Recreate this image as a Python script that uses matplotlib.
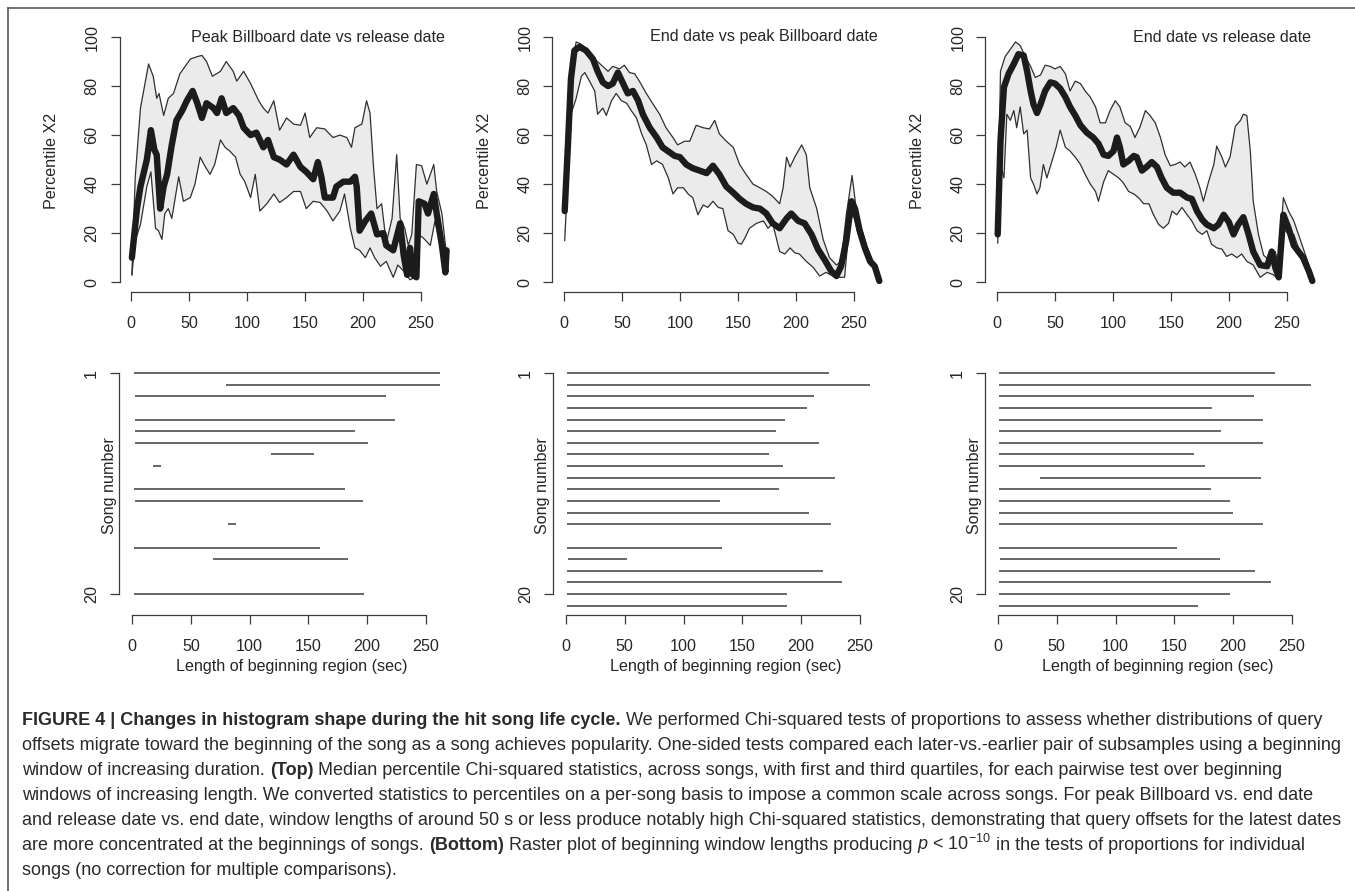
import numpy as np
import matplotlib
matplotlib.use("Agg")
import matplotlib.pyplot as plt
from matplotlib.lines import Line2D

plt.rcParams['font.family'] = ['Liberation Sans', 'DejaVu Sans']
plt.rcParams['mathtext.fontset'] = 'custom'
plt.rcParams['mathtext.rm'] = 'Liberation Sans'
plt.rcParams['mathtext.it'] = 'Liberation Sans:italic'
plt.rcParams['mathtext.bf'] = 'Liberation Sans:bold'

# ---------------- data ----------------
panel_titles = ["Peak Billboard date vs release date",
                "End date vs peak Billboard date",
                "End date vs release date"]
ylabel_top = "Percentile X2"
ylabel_bottom = "Song number"
xlabel_bottom = "Length of beginning region (sec)"
x_ticks = [0, 50, 100, 150, 200, 250]
y_ticks_top = [0, 20, 40, 60, 80, 100]
y_ticks_bottom = [1, 20]

# Panel 1: Peak Billboard date vs release date
pr_med_x = [0.6, 5, 8, 13.5, 17, 20, 22, 25, 28, 31, 35, 39, 44, 48, 53, 57, 61, 65, 71, 74, 78, 82, 88, 93, 97,
            103, 108, 114, 118, 123, 128, 134, 140, 146, 151, 157, 161, 164, 167, 174, 177, 183, 189, 193, 194.5,
            197, 202, 207, 212, 217.5, 220, 226, 232, 235, 238, 240.5, 243, 246, 248, 253, 256, 261, 263.5, 268, 271, 272]
pr_med_y = [10, 30, 39, 50, 62, 54, 52, 30, 39, 44, 56, 66, 70, 74, 78, 73, 67, 73, 71, 69, 75, 69, 71, 68, 63,
            60, 61, 55, 58, 51, 50, 48, 52, 47, 45, 42, 49, 43, 34.5, 34.5, 39, 41, 41, 43, 39,
            21, 25, 28, 19.5, 20, 15, 13, 24, 11, 3, 14, 3, 2, 33, 32, 28, 36, 28, 15, 4, 13]
pr_q3_x = [0.6, 3.5, 8, 15, 19, 22, 24, 28, 32, 36.5, 42, 46.5, 51, 57, 61, 65, 70, 77, 82, 88, 91, 97, 103, 110, 114,
           118, 123, 128, 134, 140, 146, 150, 154, 160, 167, 174, 180, 186, 190, 193, 199, 203, 206, 209, 212,
           216, 220, 225, 229, 232, 236, 239, 242, 246, 250.5, 255, 261, 263.5, 268, 272]
pr_q3_y = [3, 43, 71, 89, 84, 75, 77, 68, 75, 77, 85, 88, 91, 92, 92.5, 90, 84, 86, 90, 86, 82, 86, 81, 74, 71,
           69, 74, 62, 67, 64.5, 64, 69, 59, 63, 62.5, 59, 60, 59, 55, 63, 64.5, 74, 69, 47, 30,
           32, 16, 26, 52, 26, 22, 15, 19.5, 48, 47.5, 40, 48, 37, 28, 11]
pr_q1_x = [0.6, 3.5, 8, 13.5, 17, 21, 23.5, 26.5, 29, 32, 35, 41, 45, 51, 55, 59.5, 64, 68, 72, 77, 81, 85, 90, 94, 98,
           103, 107, 111, 117, 123, 128, 134, 140, 146, 151, 157, 163, 169, 174, 180, 184, 189, 193, 197, 202,
           206, 210, 215, 220, 226, 230, 235, 240.5, 245, 248, 252, 258, 262, 266, 271, 272]
pr_q1_y = [3, 17, 23.5, 39, 45, 22, 21, 17.5, 28, 30, 26, 43, 33, 34.5, 40, 51, 47, 44, 48, 58, 55, 53.5, 51, 44, 41,
           34.5, 44, 29, 32, 36, 32.5, 34.5, 37, 37, 30, 33, 32.5, 29, 25, 29, 36, 22, 14, 13, 10,
           14, 10, 6.5, 8.5, 2, 7, 4.5, 1, 2, 19.5, 18, 15, 25, 17, 3, 5]

# Panel 2: End date vs peak Billboard date
ep_med_x = [0.6, 3.5, 6, 9, 13.5, 19, 25, 29, 33.5, 38, 42, 46.5, 51, 55, 59.5, 64, 68, 74, 80, 85, 91, 95.5, 100,
            105.5, 111, 117, 123, 128.5, 134, 140, 146, 151.5, 157, 163, 169, 174.5, 180, 186, 192, 196, 202,
            207.5, 213.5, 219, 225, 230.5, 235, 239, 243.5, 248, 251, 255, 259.5, 264, 268, 272]
ep_med_y = [29, 57, 83, 94.5, 96, 94.5, 91, 86, 81.5, 80, 81, 85.5, 81, 77, 78, 74, 68.5, 63, 59, 55, 53, 51.5, 51,
            48, 46.5, 45.5, 44.5, 47.5, 44, 39, 36.5, 34, 32, 30.5, 30, 28, 24, 22, 26, 28, 25,
            24, 19.5, 13.5, 9, 4.5, 2.5, 6.5, 17, 33, 30, 21, 14, 8.5, 6.5, 0.5]
ep_q3_x = [0.6, 3.5, 6, 10.5, 15, 20.5, 26.5, 33.5, 38, 42, 48, 52, 56.5, 61, 65, 71, 77, 82.5, 88, 94, 98, 104,
           108.5, 114, 120, 125.5, 130, 134, 140, 146, 151.5, 157, 163, 169, 174.5, 180, 186, 189, 192, 195, 199,
           205, 209, 212, 218, 223.5, 229, 235, 239, 243.5, 248.5, 252, 256.5, 261, 266.5, 272]
ep_q3_y = [30, 63, 87, 98, 97, 94.5, 91, 88, 86, 88, 87, 88.5, 85.5, 85, 82, 77, 72.5, 68.5, 63, 59, 56, 57.5,
           57.5, 64, 63, 62.5, 66, 60.5, 57.5, 55, 48, 44, 40, 38.5, 37, 35, 32, 38.5, 51, 47, 51,
           56, 52, 38.5, 30, 17.5, 10, 7, 8.5, 27.5, 43.5, 30, 22, 15, 8.5, 2]
ep_q1_x = [0.6, 3.5, 6, 10.5, 15, 18, 22, 26.5, 29, 33.5, 36.5, 41, 45, 49.5, 54, 58, 62.5, 67, 71, 75.5, 80, 85,
           90, 94, 98, 103, 107, 111, 115.5, 120, 124, 128.5, 133, 137, 141.5, 146, 150, 153, 156, 160, 166, 172,
           176, 180, 186, 190.5, 195, 199, 203, 209, 215, 220.5, 226, 232, 238, 242, 246.5, 249.5, 254, 258,
           264, 268, 272]
ep_q1_y = [17, 44, 68.5, 75, 84, 85.5, 82, 78, 68.5, 71, 68, 74, 77, 74, 73, 70, 67, 60.5, 56, 48, 49.5, 48,
           42.5, 36, 38.5, 38.5, 36, 34.5, 27.5, 31.5, 30.5, 33, 30.5, 30, 21, 19.5, 16, 15.5, 18, 22, 24, 25,
           22, 24, 12.5, 11.5, 14, 12, 11.5, 8.5, 6, 2.5, 4, 2.5, 2, 2, 25, 27.5, 19.5, 14,
           7, 6, 0]

# Panel 3: End date vs release date
er_med_x = [0.6, 3, 6, 10, 14.5, 18.5, 23, 26, 29, 31.5, 34.5, 37.5, 41.5, 46, 50, 54.5, 59, 63, 67.5, 72, 77.5,
            83, 87.5, 92, 96, 100.5, 103.5, 106, 109, 113.5, 118, 120.5, 125, 129, 133.5, 138, 142, 146.5, 152,
            158, 164, 168, 172.5, 177, 181, 187, 191, 195.5, 200, 204, 208, 212.5, 217, 221, 227, 233, 237, 240,
            243, 247, 251.5, 256, 260, 264, 269, 272]
er_med_y = [19.5, 57.5, 79.5, 85, 89, 93, 92.5, 86, 78, 72.5, 69, 72.5, 78, 81.5, 81, 79, 75.5, 71.5, 68, 64, 61,
            59, 56.5, 52, 51.5, 53.5, 59, 55, 48, 49.5, 51.5, 51, 45.5, 47, 49, 47, 42.5, 38.5, 36.5,
            36.5, 34.5, 34, 29, 25.5, 23.5, 22, 23.5, 27.5, 24.5, 19.5, 23.5, 26.5, 19.5, 12.5, 7, 6.5, 12.5, 6,
            2, 27.5, 22, 15, 12.5, 10, 4.5, 0.5]
er_q3_x = [0.6, 3, 7, 11.5, 16, 20, 24.5, 29, 33, 37.5, 41.5, 46, 50, 54.5, 59, 63, 67.5, 72, 76, 80.5, 85, 89,
           93.5, 97.5, 102, 106, 110.5, 115, 119, 123.5, 128, 132, 136.5, 141, 145, 149.5, 153.5, 158, 162,
           166.5, 171, 175, 178, 182.5, 187, 189.5, 194, 197, 201, 205.5, 210, 212.5, 215.5, 218.5, 221, 225.5,
           230, 235.5, 240, 243, 247, 251.5, 256, 260, 264, 269, 272]
er_q3_y = [20, 86, 92, 95, 98, 96.5, 92, 88, 83.5, 84.5, 88.5, 88, 87, 88, 85, 78, 82, 81, 78, 75.5, 71.5, 65,
           65, 70, 74, 71.5, 65, 63.5, 59, 63.5, 70, 68, 65, 59, 52, 47.5, 48, 49, 47,
           49, 44, 38.5, 33, 41, 48, 55.5, 51, 47, 51, 63.5, 66, 68.5, 68, 53.5, 33, 19.5,
           11, 8.5, 12.5, 7, 34.5, 29, 25, 19.5, 14, 7, 2]
er_q1_x = [0.6, 3, 6, 8.5, 11.5, 14.5, 17, 20, 23, 26, 29, 31.5, 34.5, 37, 40, 43, 47.5, 51, 54.5, 59, 63, 67.5,
           72, 76, 80.5, 85, 87.5, 92, 96, 100.5, 105, 109, 113.5, 118, 122, 126.5, 131, 135, 139.5, 143.5, 148,
           151, 155, 159.5, 164, 168, 172.5, 177, 181, 185, 189.5, 194, 198, 202.5, 207, 211, 215.5, 221, 227,
           233, 238.5, 243, 247, 251.5, 256, 260, 264, 269, 272]
er_q1_y = [16, 48, 42.5, 68.5, 66, 70, 63, 71.5, 60.5, 62, 42.5, 40, 36, 38.5, 48, 42.5, 49.5, 55, 62, 55, 53.5, 51,
           48, 44, 40, 37, 33, 41, 45.5, 44, 42.5, 40.5, 37, 36, 34.5, 32, 32, 27.5, 23.5, 22, 24,
           29, 27.5, 30.5, 27.5, 25, 21, 19.5, 21, 15.5, 14, 13.5, 10.5, 11.5, 10, 11.5, 8.5, 7, 2,
           4, 3, 1, 22, 19.5, 19.5, 14, 8.5, 4, 0]

# Raster plots: significant window ranges per song
pr_songs = [1, 2, 3, 5, 6, 7, 8, 9, 11, 12, 14, 16, 17, 20]
pr_start = [2, 79.5, 2.5, 2.5, 2.5, 2.5, 118.5, 17.5, 1.5, 2.5, 82, 1.5, 68.5, 2]
pr_end = [262, 262, 216, 224, 190, 201, 154.5, 25, 181, 196, 88, 160, 184, 197.5]

ep_songs = [1, 2, 3, 4, 5, 6, 7, 8, 9, 10, 11, 12, 13, 14, 16, 17, 18, 19, 20, 21]
ep_start = [1, 1, 1, 1, 1, 1, 1, 1, 1, 1, 1, 1, 1, 1, 1, 2, 1, 1, 1, 1]
ep_end = [223.5, 259, 211, 205, 186.5, 179, 215.5, 173, 184.5, 228.5, 181, 131, 207, 225, 133, 52, 219, 235, 188, 188]

er_songs = [1, 2, 3, 4, 5, 6, 7, 8, 9, 10, 11, 12, 13, 14, 16, 17, 18, 19, 20, 21]
er_start = [1, 1, 1, 1, 1, 1, 1, 1, 1, 35.5, 1, 1, 1, 1, 1, 2, 1, 1, 1, 1]
er_end = [236, 266, 218, 182, 225, 190, 225, 167, 176, 224, 181, 197, 200, 225, 152, 189, 219, 232, 197, 170]

top_data = [
    (pr_med_x, pr_med_y, pr_q3_x, pr_q3_y, pr_q1_x, pr_q1_y),
    (ep_med_x, ep_med_y, ep_q3_x, ep_q3_y, ep_q1_x, ep_q1_y),
    (er_med_x, er_med_y, er_q3_x, er_q3_y, er_q1_x, er_q1_y),
]
bottom_data = [
    (pr_songs, pr_start, pr_end),
    (ep_songs, ep_start, ep_end),
    (er_songs, er_start, er_end),
]

caption_lines = [
    [("FIGURE 4 | Changes in histogram shape during the hit song life cycle.", "bold"),
     ("We performed Chi-squared tests of proportions to assess whether distributions of query", "normal")],
    [("offsets migrate toward the beginning of the song as a song achieves popularity. One-sided tests compared "
      "each later-vs.-earlier pair of subsamples using a beginning", "normal")],
    [("window of increasing duration.", "normal"), ("(Top)", "bold"),
     ("Median percentile Chi-squared statistics, across songs, with first and third quartiles, for each pairwise "
      "test over beginning", "normal")],
    [("windows of increasing length. We converted statistics to percentiles on a per-song basis to impose a "
      "common scale across songs. For peak Billboard vs. end date", "normal")],
    [("and release date vs. end date, window lengths of around 50 s or less produce notably high Chi-squared "
      "statistics, demonstrating that query offsets for the latest dates", "normal")],
    [("are more concentrated at the beginnings of songs.", "normal"), ("(Bottom)", "bold"),
     ("Raster plot of beginning window lengths producing", "normal"), (r"$p$ < $10^{-10}$", "normal"),
     ("in the tests of proportions for individual", "normal")],
    [("songs (no correction for multiple comparisons).", "normal")],
]

# ---------------- layout ----------------
W, H, DPI = 1355, 891, 100
fig = plt.figure(figsize=(W / DPI, H / DPI), dpi=DPI)
fig.patch.set_facecolor("white")


def px_rect(left, top, width, height):
    return [left / W, 1 - (top + height) / H, width / W, height / H]


AX_COL = "#3c3c3c"
TXT_COL = "#262626"
FS = 11.6

top_lefts = [119.6, 552.4, 985.4]
bot_lefts = [119.1, 553.0, 985.0]
TOP_W, TOP_TOP, TOP_H = 339.7, 27.2, 264.8
BOT_W, BOT_TOP, BOT_H = 345.7, 363.7, 251.3


def style(ax, xbounds, ybounds):
    for s in ["top", "right"]:
        ax.spines[s].set_visible(False)
    ax.spines["left"].set_bounds(*ybounds)
    ax.spines["bottom"].set_bounds(*xbounds)
    for s in ["left", "bottom"]:
        ax.spines[s].set_color(AX_COL)
        ax.spines[s].set_linewidth(0.9)
    ax.tick_params(direction="out", length=6.5, width=0.9, color=AX_COL,
                   labelcolor=TXT_COL, labelsize=FS)
    ax.tick_params(axis="x", pad=11)
    ax.tick_params(axis="y", pad=8)
    ax.patch.set_alpha(0)


for i in range(3):
    mx, my, q3x, q3y, q1x, q1y = [np.asarray(a, dtype=float) for a in top_data[i]]
    ax = fig.add_axes(px_rect(top_lefts[i], TOP_TOP, TOP_W, TOP_H))
    ax.fill(np.concatenate([q3x, q1x[::-1]]), np.concatenate([q3y, q1y[::-1]]),
            color="#ebebeb", lw=0, zorder=1)
    ax.plot(q3x, q3y, color="#303030", lw=0.9, zorder=2)
    ax.plot(q1x, q1y, color="#303030", lw=0.9, zorder=2)
    ax.plot(mx, my, color="#1c1c1c", lw=4.6, solid_joinstyle="round",
            solid_capstyle="round", zorder=3)
    ax.set_xlim(-10, 283)
    ax.set_ylim(-4, 104)
    ax.set_xticks(x_ticks, [str(v) for v in x_ticks])
    ax.set_yticks(y_ticks_top, [str(v) for v in y_ticks_top], rotation=90, va="center")
    style(ax, (0, 250), (0, 100))
    ax.text(1 - 14 / TOP_W, 1 - 9.8 / TOP_H, panel_titles[i], transform=ax.transAxes,
            ha="right", va="center", fontsize=FS, color=TXT_COL)
    ax.text(-68 / TOP_W, 0.495, ylabel_top, transform=ax.transAxes, rotation=90,
            ha="center", va="center", fontsize=FS, color=TXT_COL)

for i in range(3):
    songs, starts, ends = bottom_data[i]
    ax = fig.add_axes(px_rect(bot_lefts[i], BOT_TOP, BOT_W, BOT_H))
    ax.hlines(songs, starts, ends, color="#5a5a5a", lw=1.3)
    ax.set_xlim(-11, 283)
    ax.set_ylim(21.8, 0.2)
    ax.set_xticks(x_ticks, [str(v) for v in x_ticks])
    ax.set_yticks(y_ticks_bottom, [str(v) for v in y_ticks_bottom], rotation=90, va="center")
    style(ax, (0, 250), (1, 20))
    ax.text(-10 / BOT_W, 0.517, ylabel_bottom, transform=ax.transAxes, rotation=90,
            ha="center", va="center", fontsize=FS, color=TXT_COL)
    ax.text(0.5, -52 / BOT_H, xlabel_bottom, transform=ax.transAxes,
            ha="center", va="center", fontsize=FS, color=TXT_COL)

# frame (top and left edges visible)
fig.add_artist(Line2D([8 / W, 1], [1 - 8 / H, 1 - 8 / H], transform=fig.transFigure,
                      color="#4a4a4a", lw=1.1))
fig.add_artist(Line2D([8 / W, 8 / W], [1 - 8 / H, 0], transform=fig.transFigure,
                      color="#4a4a4a", lw=1.1))

# caption
fig.canvas.draw()
r = fig.canvas.get_renderer()
probe = fig.text(0, 0, caption_lines[1][0][0], fontsize=10)
w10 = probe.get_window_extent(r).width
probe.remove()
cap_fs = 10 * 1319 / w10
p1 = fig.text(0, 0, "a a", fontsize=cap_fs)
p2 = fig.text(0, 0, "aa", fontsize=cap_fs)
space_w = p1.get_window_extent(r).width - p2.get_window_extent(r).width
p1.remove()
p2.remove()

CAP_COL = "#2a2a2a"
baselines = [725, 750, 775, 800, 825, 850, 875]
for segs, yb in zip(caption_lines, baselines):
    x = 22.0
    for txt, weight in segs:
        t = fig.text(x / W, 1 - yb / H, txt, fontsize=cap_fs, fontweight=weight,
                     color=CAP_COL, ha="left", va="baseline")
        x += t.get_window_extent(r).width + space_w

fig.savefig("out.png", dpi=DPI)
